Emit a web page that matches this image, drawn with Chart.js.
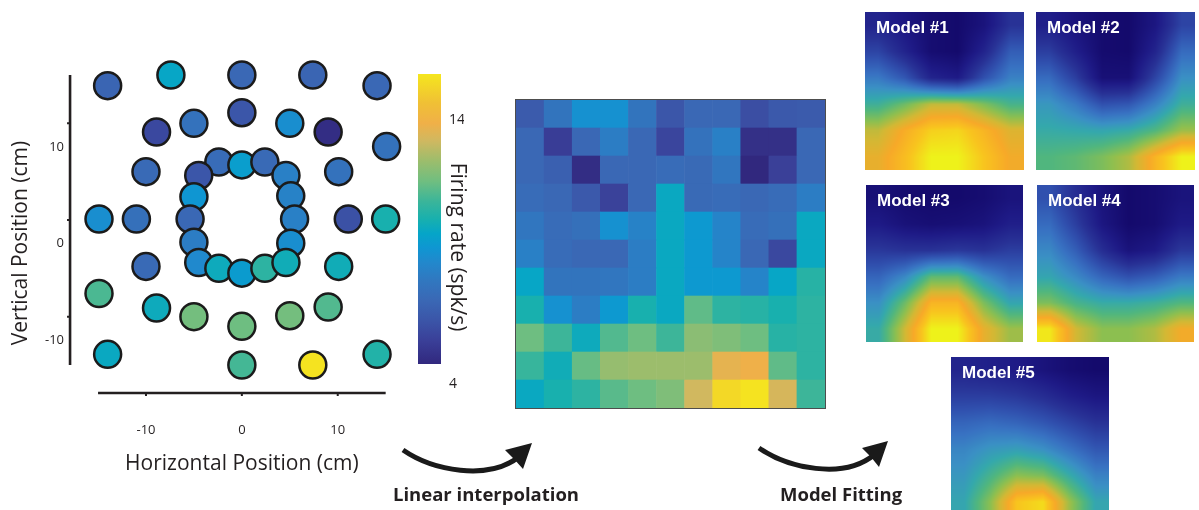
<!DOCTYPE html>
<html>
<head>
<meta charset="utf-8">
<title>Firing rate maps</title>
<script src="https://cdn.jsdelivr.net/npm/chart.js@4.4.1/dist/chart.umd.min.js"></script>
<style>
  body { margin: 0; width: 1199px; height: 510px; overflow: hidden; position: relative; background: #fff; }
  canvas { position: absolute; }
  #heat { outline: 1px solid #4d4d4d; }
  svg { position: absolute; left: 0; top: 0; }
</style>
</head>
<body>
<canvas id="dots" width="405" height="490" style="left:0;top:0"></canvas>
<canvas id="bar" width="80" height="490" style="left:405px;top:0"></canvas>
<canvas id="heat" width="309" height="308" style="left:516px;top:100px"></canvas>
<canvas id="m1" width="159" height="158" style="left:865px;top:12px"></canvas>
<canvas id="m2" width="159" height="158" style="left:1036px;top:12px"></canvas>
<canvas id="m3" width="157" height="157" style="left:866px;top:185px"></canvas>
<canvas id="m4" width="157" height="157" style="left:1037px;top:185px"></canvas>
<canvas id="m5" width="158" height="158" style="left:951px;top:357px"></canvas>
<svg width="1199" height="510">
  <g fill="none" stroke="#1a1a1a" stroke-width="5">
    <path d="M403,450 C432,470 488,482 520,456"/>
    <path d="M759,448 C788,468 843,480 874,455"/>
  </g>
  <g fill="#1a1a1a">
    <polygon points="532,443 505,450 514,459 523,469"/>
    <polygon points="888,441 862,448 871,457 879,467"/>
  </g>
  <g font-family="'Open Sans', sans-serif" font-weight="bold" font-size="18.5" fill="#231f20">
    <text id="step1" x="393" y="501"></text>
    <text id="step2" x="780" y="501"></text>
  </g>
</svg>
<script>
// recorded positions (cm) and firing rates (spk/s)
const dotX = [-14, -7.4, 0, 7.4, 14.1, 0, -5, 5, -8.9, 9, 15.1, -10, 10.1,
  -2.4, 0, 2.4, -4.5, 4.6, -5, 5.1, -5.4, 5.5, -5, 5.1, -4.5, -2.4, 0, 2.4, 4.6,
  -14.9, -11, 11.1, 15, -10, 10.1, -14.9, -8.9, 9, -5, 5, 0, -14, 0, 7.4, 14.1];
const dotY = [13.9, 15, 15, 15, 13.9, 11.1, 10, 10, 9.1, 9.1, 7.6, 5, 5,
  6, 5.7, 6, 4.6, 4.6, 2.4, 2.5, 0.1, 0.1, -2.3, -2.4, -4.4, -5, -5.5, -5, -4.4,
  0.1, 0.1, 0.1, 0.1, -4.8, -4.8, -7.6, -9.1, -9, -10, -9.9, -11, -13.9, -15, -15, -13.9];
const dotRate = [6.3, 9.0, 6.4, 6.3, 6.4, 5.7, 6.9, 8.1, 5.2, 4.2, 6.9, 6.5, 6.9,
  6.6, 8.7, 6.5, 5.7, 7.5, 8.4, 7.6, 6.4, 7.5, 7.4, 8.1, 7.9, 9.2, 8.6, 9.9, 9.3,
  8.1, 6.8, 5.5, 9.5, 6.5, 9.3, 10.4, 9.2, 10.5, 11.0, 11.0, 10.9, 9.1, 10.3, 14.9, 9.7];
const xTicks = [-10, 0, 10];
const yTicks = [-10, 0, 10];
const rateRange = [4, 15];
const rateTicks = [4, 14];

// linear interpolation map, 11 x 11, rows from top
const heatRates = [
  [5.9, 7.0, 8.2, 8.2, 7.0, 5.7, 6.4, 6.4, 5.4, 5.8, 5.9],
  [6.4, 4.8, 6.4, 7.4, 6.4, 5.1, 6.9, 7.5, 4.3, 4.3, 6.4],
  [6.4, 6.1, 4.2, 6.4, 6.4, 6.6, 6.5, 7.1, 4.0, 4.9, 6.4],
  [6.6, 6.4, 5.8, 5.0, 6.4, 9.1, 6.5, 6.6, 6.4, 6.6, 7.4],
  [7.1, 6.6, 6.8, 8.2, 7.6, 9.1, 8.5, 7.7, 6.6, 6.8, 9.1],
  [7.5, 6.6, 6.4, 6.4, 7.4, 9.1, 8.5, 7.7, 6.4, 5.2, 9.1],
  [9.0, 7.0, 7.0, 7.1, 7.4, 9.1, 8.5, 8.5, 7.7, 9.0, 9.8],
  [9.5, 8.2, 7.4, 8.5, 9.5, 9.1, 10.7, 9.9, 9.8, 9.5, 9.9],
  [10.9, 10.2, 9.2, 10.5, 10.9, 10.2, 11.4, 11.2, 10.9, 9.8, 9.9],
  [10.1, 9.3, 10.8, 11.6, 11.7, 11.7, 11.7, 12.9, 13.1, 10.7, 9.9],
  [9.1, 9.5, 9.9, 10.6, 10.9, 11.2, 12.5, 14.6, 14.9, 12.6, 10.2]
];

// fitted model maps (normalised), 6 x 6, rows from top
const model1Fit = [
  [0.14, 0.08, 0.02, 0.00, 0.06, 0.20],
  [0.26, 0.14, 0.02, 0.00, 0.14, 0.34],
  [0.42, 0.32, 0.14, 0.10, 0.30, 0.44],
  [0.58, 0.66, 0.76, 0.76, 0.68, 0.60],
  [0.76, 0.86, 0.94, 0.95, 0.88, 0.80],
  [0.82, 0.90, 1.00, 1.00, 0.92, 0.84]
];
const model2Fit = [
  [0.12, 0.06, 0.01, 0.00, 0.08, 0.26],
  [0.24, 0.12, 0.01, 0.00, 0.14, 0.38],
  [0.38, 0.24, 0.04, 0.04, 0.26, 0.48],
  [0.50, 0.42, 0.30, 0.32, 0.44, 0.58],
  [0.56, 0.55, 0.54, 0.56, 0.62, 0.72],
  [0.62, 0.64, 0.68, 0.74, 0.88, 1.00]
];
const model3Fit = [
  [0.04, 0.01, 0.00, 0.00, 0.02, 0.06],
  [0.10, 0.05, 0.03, 0.04, 0.06, 0.12],
  [0.22, 0.20, 0.20, 0.22, 0.20, 0.24],
  [0.36, 0.46, 0.64, 0.64, 0.48, 0.38],
  [0.48, 0.66, 0.88, 0.88, 0.68, 0.54],
  [0.56, 0.78, 1.00, 1.00, 0.82, 0.72]
];
const model4Fit = [
  [0.30, 0.18, 0.06, 0.00, 0.02, 0.06],
  [0.38, 0.24, 0.08, 0.00, 0.02, 0.10],
  [0.46, 0.34, 0.18, 0.06, 0.10, 0.22],
  [0.54, 0.46, 0.36, 0.30, 0.34, 0.42],
  [0.68, 0.60, 0.56, 0.56, 0.58, 0.62],
  [0.98, 0.78, 0.70, 0.70, 0.74, 0.84]
];
const model5Fit = [
  [0.14, 0.12, 0.10, 0.06, 0.02, 0.00],
  [0.24, 0.24, 0.22, 0.18, 0.12, 0.08],
  [0.36, 0.38, 0.36, 0.32, 0.26, 0.20],
  [0.45, 0.50, 0.52, 0.48, 0.40, 0.32],
  [0.50, 0.60, 0.70, 0.68, 0.56, 0.44],
  [0.54, 0.70, 0.92, 0.96, 0.72, 0.54]
];
const modelNames = ["Model #1", "Model #2", "Model #3", "Model #4", "Model #5"];
const stepNames = ["Linear interpolation", "Model Fitting"];

// parula as it prints in the data panels, and the brighter one in the model images
const rateStops = [
  [0.00, "#31287e"], [0.08, "#3a3f98"], [0.15, "#3b55a8"], [0.22, "#3a68b5"],
  [0.29, "#3078c0"], [0.35, "#2288cc"], [0.40, "#0f96d2"], [0.45, "#05a5c8"],
  [0.50, "#18b0ae"], [0.56, "#3ab59a"], [0.63, "#70be80"], [0.70, "#9cbd6c"],
  [0.77, "#d0b860"], [0.83, "#f0b048"], [0.90, "#f0c035"], [1.00, "#f5e61e"]
];
const modelStops = [
  [0.00, "#140a6c"], [0.10, "#1e1a86"], [0.20, "#283296"], [0.30, "#3050ae"],
  [0.40, "#3872c2"], [0.48, "#3a90c4"], [0.55, "#34a8ac"], [0.62, "#50b67e"],
  [0.70, "#8cbf50"], [0.78, "#d2b834"], [0.85, "#f7a928"], [0.92, "#f8c41e"],
  [1.00, "#eef21a"]
];

const hexRgb = h => [1, 3, 5].map(i => parseInt(h.slice(i, i + 2), 16));
const rateRgb = rateStops.map(s => [s[0], hexRgb(s[1])]);
const modelRgb = modelStops.map(s => [s[0], hexRgb(s[1])]);

function mapColor(stops, t) {
  t = Math.max(0, Math.min(1, t));
  for (let i = 1; i < stops.length; i++) {
    if (t <= stops[i][0]) {
      const [t0, a] = stops[i - 1];
      const [t1, b] = stops[i];
      const f = (t - t0) / (t1 - t0);
      return a.map((v, k) => Math.round(v + (b[k] - v) * f));
    }
  }
  return stops[stops.length - 1][1];
}

function rateColor(v) {
  const t = (v - rateRange[0]) / (rateRange[1] - rateRange[0]);
  return "rgb(" + mapColor(rateRgb, t).join(",") + ")";
}

Chart.defaults.font.family = "'Open Sans', sans-serif";
Chart.defaults.color = "#231f20";
Chart.defaults.animation = false;
Chart.defaults.responsive = false;
Chart.defaults.plugins.legend.display = false;
Chart.defaults.plugins.tooltip.enabled = false;

const ink = "#231f20";

// offset axis lines with outward ticks, plus the shifted y title
const offsetAxes = {
  id: "offsetAxes",
  afterDraw(chart) {
    const { ctx, chartArea: a, scales: { x, y } } = chart;
    const lineY = a.bottom + 28;
    const lineX = a.left - 28;
    ctx.save();
    ctx.strokeStyle = ink;
    ctx.lineWidth = 2.6;
    ctx.beginPath();
    ctx.moveTo(x.getPixelForValue(x.min), lineY);
    ctx.lineTo(x.getPixelForValue(x.max), lineY);
    ctx.moveTo(lineX, y.getPixelForValue(y.max));
    ctx.lineTo(lineX, y.getPixelForValue(y.min));
    ctx.stroke();
    ctx.lineWidth = 2;
    ctx.beginPath();
    xTicks.forEach(v => {
      const px = x.getPixelForValue(v);
      ctx.moveTo(px, lineY);
      ctx.lineTo(px, lineY + 3);
    });
    yTicks.forEach(v => {
      const py = y.getPixelForValue(v);
      ctx.moveTo(lineX, py);
      ctx.lineTo(lineX - 3, py);
    });
    ctx.stroke();
    ctx.translate(21, (a.top + a.bottom) / 2 + 23);
    ctx.rotate(-Math.PI / 2);
    ctx.font = "21px 'Open Sans'";
    ctx.fillStyle = ink;
    ctx.textAlign = "center";
    ctx.textBaseline = "middle";
    ctx.fillText("Vertical Position (cm)", 0, 0);
    ctx.restore();
  }
};

new Chart(document.getElementById("dots"), {
  type: "scatter",
  data: {
    datasets: [{
      data: dotX.map((x, i) => ({ x: x, y: dotY[i] })),
      backgroundColor: dotRate.map(rateColor),
      borderColor: "#1b1b1b",
      borderWidth: 2.5,
      pointRadius: 13.5,
      clip: false
    }]
  },
  options: {
    // the scale reserves twice the tick padding, so the title padding gives some back
    layout: { autoPadding: false, padding: { left: 11, right: 17, top: 75, bottom: 9 } },
    scales: {
      x: {
        min: -15, max: 15,
        afterBuildTicks: s => { s.ticks = xTicks.map(v => ({ value: v })); },
        grid: { display: false, drawTicks: false },
        border: { display: false },
        ticks: { padding: 57, font: { size: 13 } },
        title: { display: true, text: "Horizontal Position (cm)", font: { size: 21 }, padding: { top: -42.8, bottom: 4 } }
      },
      y: {
        min: -15, max: 15,
        afterBuildTicks: s => { s.ticks = yTicks.map(v => ({ value: v })); },
        grid: { display: false, drawTicks: false },
        border: { display: false },
        ticks: { padding: 34, labelOffset: 23.5, font: { size: 13 } }
      }
    }
  },
  plugins: [offsetAxes]
});

// colour bar
const barTitle = {
  id: "barTitle",
  afterDraw(chart) {
    const { ctx, chartArea: a } = chart;
    ctx.save();
    ctx.translate(a.right + 16, (a.top + a.bottom) / 2 + 28);
    ctx.rotate(Math.PI / 2);
    ctx.font = "21px 'Open Sans'";
    ctx.fillStyle = ink;
    ctx.textAlign = "center";
    ctx.textBaseline = "middle";
    ctx.fillText("Firing rate (spk/s)", 0, 0);
    ctx.restore();
  }
};

new Chart(document.getElementById("bar"), {
  type: "bar",
  data: {
    labels: [""],
    datasets: [{
      data: [rateRange],
      barPercentage: 1,
      categoryPercentage: 1,
      borderWidth: 0,
      backgroundColor: c => {
        const y = c.chart.scales.y;
        const y0 = y ? y.getPixelForValue(rateRange[0]) : NaN;
        const y1 = y ? y.getPixelForValue(rateRange[1]) : NaN;
        if (!isFinite(y0) || !isFinite(y1)) return "#888";
        const g = c.chart.ctx.createLinearGradient(0, y0, 0, y1);
        rateStops.forEach(s => g.addColorStop(s[0], s[1]));
        return g;
      }
    }]
  },
  options: {
    layout: { autoPadding: false, padding: { left: 13, right: 21, top: 74, bottom: 126 } },
    scales: {
      x: { display: false },
      y: {
        position: "right",
        min: rateRange[0], max: rateRange[1],
        afterBuildTicks: s => { s.ticks = rateTicks.map(v => ({ value: v })); },
        grid: { display: false, drawTicks: false },
        border: { display: false },
        ticks: { padding: 8, labelOffset: 20, font: { size: 14 } }
      }
    }
  },
  plugins: [barTitle]
});

// interpolated map
const cells = [];
heatRates.forEach((row, r) => row.forEach((v, c) => cells.push({ x: c, y: r, v: v })));

new Chart(document.getElementById("heat"), {
  type: "scatter",
  data: {
    datasets: [{
      data: cells,
      pointStyle: "rect",
      borderWidth: 0,
      backgroundColor: cells.map(p => rateColor(p.v)),
      pointRadius: c => {
        const x = c.chart.scales.x;
        const d = x ? Math.abs(x.getPixelForValue(1) - x.getPixelForValue(0)) : NaN;
        return isFinite(d) ? d / Math.SQRT2 + 0.4 : 0;
      }
    }]
  },
  options: {
    layout: { autoPadding: false, padding: 0 },
    scales: {
      x: { display: false, min: -0.5, max: 10.5 },
      y: { display: false, min: -0.5, max: 10.5, reverse: true }
    }
  }
});

// model maps: field shaded between grid nodes, name in the corner
const field = {
  id: "field",
  beforeDatasetsDraw(chart, args, opts) {
    const { ctx, chartArea: a, scales: { x, y } } = chart;
    const pts = chart.data.datasets[0].data;
    const n = opts.size;
    const val = (c, r) => pts[r * n + c].v;
    const w = Math.round(a.right - a.left);
    const h = Math.round(a.bottom - a.top);
    const img = ctx.createImageData(w, h);
    for (let j = 0; j < h; j++) {
      const gy = Math.min(n - 1, Math.max(0, y.getValueForPixel(a.top + j + 0.5)));
      const r0 = Math.min(n - 2, Math.floor(gy));
      const fy = gy - r0;
      for (let i = 0; i < w; i++) {
        const gx = Math.min(n - 1, Math.max(0, x.getValueForPixel(a.left + i + 0.5)));
        const c0 = Math.min(n - 2, Math.floor(gx));
        const fx = gx - c0;
        const t = (val(c0, r0) * (1 - fx) + val(c0 + 1, r0) * fx) * (1 - fy) +
                  (val(c0, r0 + 1) * (1 - fx) + val(c0 + 1, r0 + 1) * fx) * fy;
        const col = mapColor(modelRgb, t);
        const k = (j * w + i) * 4;
        img.data[k] = col[0];
        img.data[k + 1] = col[1];
        img.data[k + 2] = col[2];
        img.data[k + 3] = 255;
      }
    }
    ctx.putImageData(img, Math.round(a.left), Math.round(a.top));
  },
  afterDraw(chart, args, opts) {
    const { ctx, chartArea: a } = chart;
    ctx.save();
    ctx.font = "bold 17px 'Liberation Sans', Arial, sans-serif";
    ctx.fillStyle = "#ffffff";
    ctx.textBaseline = "alphabetic";
    ctx.fillText(opts.name, a.left + 11, a.top + 21);
    ctx.restore();
  }
};

[model1Fit, model2Fit, model3Fit, model4Fit, model5Fit].forEach((grid, m) => {
  const nodes = [];
  grid.forEach((row, r) => row.forEach((v, c) => nodes.push({ x: c, y: r, v: v })));
  new Chart(document.getElementById("m" + (m + 1)), {
    type: "scatter",
    data: { datasets: [{ data: nodes, pointRadius: 0 }] },
    options: {
      layout: { autoPadding: false, padding: 0 },
      plugins: { field: { name: modelNames[m], size: grid.length } },
      scales: {
        x: { display: false, min: -0.5, max: grid.length - 0.5 },
        y: { display: false, min: -0.5, max: grid.length - 0.5, reverse: true }
      }
    },
    plugins: [field]
  });
});

document.getElementById("step1").textContent = stepNames[0];
document.getElementById("step2").textContent = stepNames[1];
</script>
</body>
</html>
